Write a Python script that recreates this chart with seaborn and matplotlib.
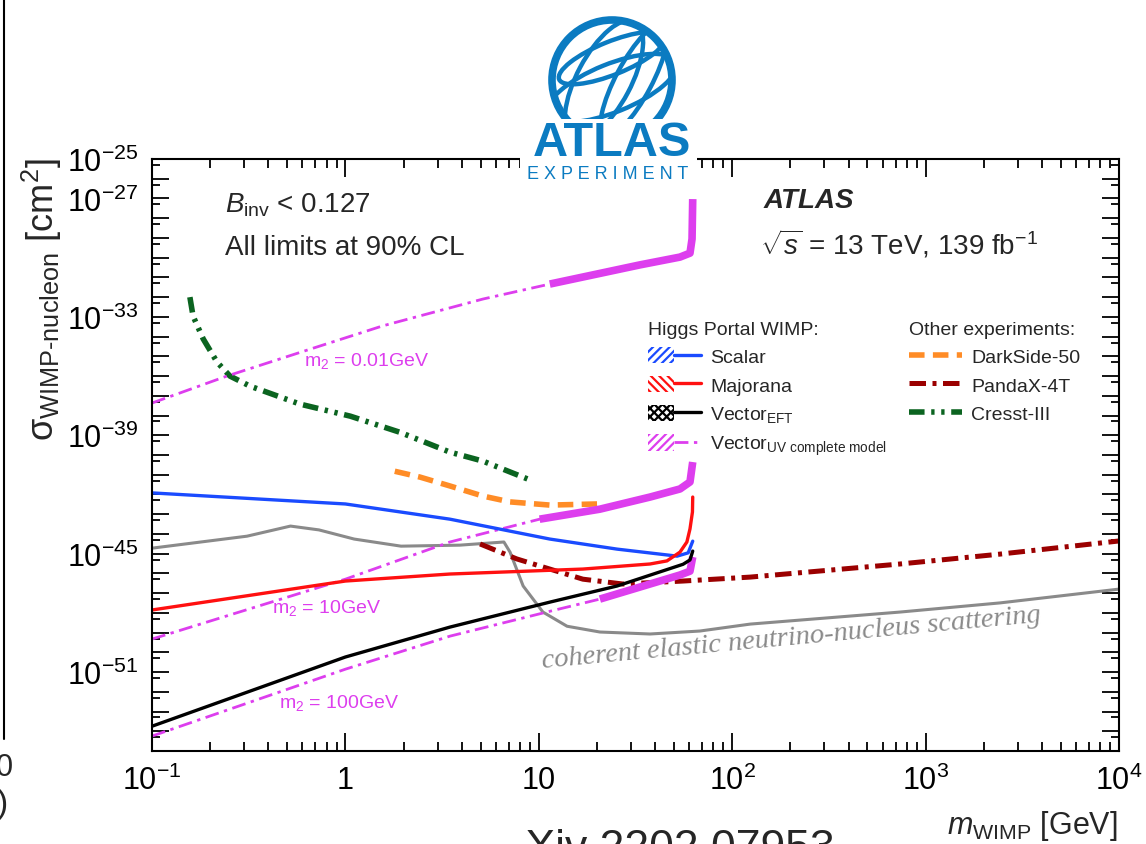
import numpy as np
import pandas as pd
import matplotlib
matplotlib.use("Agg")
import matplotlib.pyplot as plt
import seaborn as sns
from matplotlib.patches import Patch, Circle, Ellipse, Rectangle
from matplotlib.lines import Line2D
from matplotlib.legend_handler import HandlerTuple
from matplotlib.ticker import FixedLocator, FuncFormatter, NullFormatter
from matplotlib.transforms import Bbox, TransformedBbox

# ---------------------------------------------------------------- data
# WIMP mass [GeV] and WIMP-nucleon cross-section [cm^2]
scalar_m = [0.1, 1.0, 3.47, 11.4, 25.4, 51.9, 59.2, 62.5]
scalar_sigma = [1.2e-42, 3.3e-43, 5.6e-44, 5.5e-45, 1.7e-45, 7.5e-46, 1.1e-45, 4.3e-45]

majorana_m = [0.1, 1.0, 3.47, 16.9, 37.6, 46.0, 53.7, 58.3, 60.5, 62.3, 62.5]
majorana_sigma = [1.4e-48, 4.1e-47, 9.3e-47, 1.66e-46, 3.0e-46, 4.3e-46, 1.2e-45, 3.9e-45,
                  1.8e-44, 1.3e-43, 7.4e-43]

eft_m = [0.1, 1.0, 3.47, 11.4, 25.4, 55.7, 60.5, 62.5]
eft_sigma = [1.8e-54, 5.8e-51, 1.9e-49, 3.5e-48, 2.3e-47, 2.9e-46, 4.8e-46, 1.35e-45]

uv_m2_labels = ["m$_2$ = 0.01GeV", "m$_2$ = 10GeV", "m$_2$ = 100GeV"]
uv001_m = [0.1, 0.244, 0.656, 1.56, 5.14, 11.4, 33.3, 53.7, 60.5, 62.0, 62.5]
uv001_sigma = [4.3e-38, 1.0e-36, 2.3e-35, 3.5e-34, 8.0e-33, 4.6e-32, 4.3e-31, 1.07e-30,
               1.7e-30, 8.9e-30, 9.3e-28]
uv10_m = [0.1, 1.0, 3.47, 10.1, 20.7, 37.6, 53.7, 60.5, 62.5]
uv10_sigma = [4.7e-50, 5.1e-47, 3.9e-45, 5.6e-44, 1.8e-43, 7.4e-43, 1.9e-42, 4.3e-42, 4.4e-41]
uv100_m = [0.1, 1.0, 3.47, 11.4, 20.7, 37.6, 53.7, 60.5, 62.5]
uv100_sigma = [5.7e-55, 1.4e-51, 6.6e-50, 1.2e-48, 5.0e-48, 2.9e-47, 8.3e-47, 1.3e-46, 6.8e-46]
uv_band_from = [11.0, 8.0, 20.0]   # start of the shaded uncertainty band [GeV]

neutrino_m = [0.1, 0.31, 0.52, 0.73, 1.11, 1.94, 3.9, 6.6, 7.1, 8.3, 10.5, 14.0, 20.7,
              37.6, 68.0, 124.0, 738.0, 2427.0, 10000.0]
neutrino_sigma = [1.9e-45, 7.7e-45, 2.5e-44, 1.6e-44, 5.5e-45, 2.4e-45, 2.7e-45, 3.9e-45,
                  1.2e-45, 2.3e-47, 1.1e-48, 2.1e-49, 1.07e-49, 8.5e-50, 1.2e-49, 2.7e-49,
                  1.1e-48, 3.2e-48, 1.6e-47]

pandax_m = [4.97, 7.7, 11.4, 16.9, 27.2, 55.7, 124.0, 738.0, 2427.0, 10000.0]
pandax_sigma = [3.1e-45, 5.4e-46, 1.66e-46, 5.1e-47, 2.9e-47, 4.1e-47, 6.5e-47, 3.0e-46,
                9.5e-46, 4.4e-45]

darkside_m = [1.8, 2.43, 3.47, 5.14, 7.1, 11.4, 20.0]
darkside_sigma = [1.5e-41, 7.6e-42, 2.7e-42, 8.3e-43, 4.2e-43, 2.9e-43, 3.3e-43]

cresst_m = [0.157, 0.163, 0.184, 0.217, 0.253, 0.321, 0.582, 1.06, 1.92, 3.47, 5.14, 9.3]
cresst_sigma = [1.0e-32, 1.1e-33, 7.6e-35, 5.1e-36, 1.0e-36, 3.1e-37, 3.8e-38, 9.3e-39,
                1.4e-39, 1.4e-40, 4.9e-41, 4.8e-42]

higgs_labels = ["Scalar", "Majorana", r"Vector$_{\mathrm{EFT}}$",
                r"Vector$_{\mathrm{UV\ complete\ model}}$"]
other_labels = ["DarkSide-50", "PandaX-4T", "Cresst-III"]

xtick_values = [0.1, 1.0, 10.0, 100.0, 1000.0, 10000.0]
xtick_labels = [r"$10^{-1}$", "1", "10", r"$10^{2}$", r"$10^{3}$", r"$10^{4}$"]
ytick_labelled_exponents = [-25, -27, -33, -39, -45, -51]

# ---------------------------------------------------------------- style
sns.set_style("ticks")
plt.rcParams["font.family"] = ["Liberation Sans", "DejaVu Sans"]
plt.rcParams["mathtext.fontset"] = "custom"
plt.rcParams["mathtext.rm"] = "Liberation Sans"
plt.rcParams["mathtext.it"] = "Liberation Sans:italic"
plt.rcParams["mathtext.bf"] = "Liberation Sans:bold"
plt.rcParams["mathtext.sf"] = "Liberation Sans"
plt.rcParams["hatch.linewidth"] = 1.6

c_blue = "#1A4BFF"
c_red = "#FF1010"
c_black = "#000000"
c_mag = "#DD3EEE"
c_gray = "#8A8A8A"
c_orange = "#FF8C26"
c_darkred = "#9B0000"
c_green = "#0B6420"
c_atlas = "#0B7BC1"

ls_mag = (0, (5.0, 2.0, 1.2, 2.0))
ls_orange = (0, (2.8, 1.5))
ls_panda = (0, (3.3, 1.3, 0.8, 1.3))
ls_cresst = (0, (2.8, 1.2, 0.6, 1.2, 0.6, 1.2))

W, H = 1146, 845
fig = plt.figure(figsize=(W / 100, H / 100), dpi=100, facecolor="white")
ax = fig.add_axes([152 / W, 1 - 752 / H, 967 / W, 592 / H])
ax.set_xscale("log")
ax.set_yscale("log")


def curve(m, s, **kw):
    df = pd.DataFrame({"m": m, "sigma": s})
    sns.lineplot(data=df, x="m", y="sigma", ax=ax, sort=False, estimator=None,
                 legend=False, **kw)


# other experiments and the neutrino floor
curve(neutrino_m, neutrino_sigma, color=c_gray, lw=2.2)
curve(darkside_m, darkside_sigma, color=c_orange, lw=4, linestyle=ls_orange)
curve(pandax_m, pandax_sigma, color=c_darkred, lw=3.6, linestyle=ls_panda)
curve(cresst_m, cresst_sigma, color=c_green, lw=4, linestyle=ls_cresst)

# Higgs-portal WIMP limits
uv_sets = [(uv001_m, uv001_sigma), (uv10_m, uv10_sigma), (uv100_m, uv100_sigma)]
for (m, s), m_band in zip(uv_sets, uv_band_from):
    curve(m, s, color=c_mag, lw=2.0, linestyle=ls_mag)
    sel = [i for i, v in enumerate(m) if v >= m_band]
    curve([m[i] for i in sel], [s[i] for i in sel], color=c_mag, lw=5.5,
          solid_capstyle="butt", solid_joinstyle="round")
curve(scalar_m, scalar_sigma, color=c_blue, lw=2.4)
curve(majorana_m, majorana_sigma, color=c_red, lw=2.4)
curve(eft_m, eft_sigma, color=c_black, lw=2.4)

# ---------------------------------------------------------------- axes
ax.set_xlim(0.1, 1e4)
ax.set_ylim(1e-55, 1e-25)
ax.set_xlabel("")
ax.set_ylabel("")
for sp in ax.spines.values():
    sp.set_linewidth(1.5)
    sp.set_color("black")
    sp.set_visible(True)

ax.set_xticks(xtick_values)
ax.set_xticklabels(xtick_labels)
ax.xaxis.set_minor_locator(FixedLocator(
    [k * 10.0 ** e for e in range(-1, 4) for k in range(2, 10)]))
ax.xaxis.set_minor_formatter(NullFormatter())

ax.yaxis.set_major_locator(FixedLocator([10.0 ** e for e in range(-55, -24)]))
ax.yaxis.set_major_formatter(FuncFormatter(
    lambda v, p: (r"$10^{%d}$" % int(round(np.log10(v))))
    if int(round(np.log10(v))) in ytick_labelled_exponents else ""))
ax.yaxis.set_minor_locator(FixedLocator([5 * 10.0 ** e for e in range(-56, -25)]))
ax.yaxis.set_minor_formatter(NullFormatter())

ax.tick_params(which="both", direction="in", top=True, right=True, width=1.3,
               colors="black", labelsize=22)
ax.tick_params(axis="x", which="major", length=13, pad=10)
ax.tick_params(axis="x", which="minor", length=6.5)
ax.tick_params(axis="y", which="major", length=12, pad=10)
ax.tick_params(axis="y", which="minor", length=6)

fig.text(42 / W, 1 - 158 / H, r"σ$_{\mathrm{WIMP\text{-}nucleon}}$ [cm$^{2}$]",
         rotation=90, ha="center", va="top", fontsize=26)
fig.text(1118 / W, 1 - 826 / H, r"$m_{\mathrm{WIMP}}$ [GeV]",
         ha="right", va="center", fontsize=22)

# ---------------------------------------------------------------- annotations
ax.text(0.076, 0.912, r"$B_{\mathrm{inv}}$ < 0.127", transform=ax.transAxes,
        fontsize=20, va="baseline")
ax.text(0.076, 0.8395, "All limits at 90% CL", transform=ax.transAxes,
        fontsize=20, va="baseline")
ax.text(0.632, 0.919, "ATLAS", transform=ax.transAxes, fontsize=20,
        fontweight="bold", fontstyle="italic", va="baseline")
ax.text(0.629, 0.841, r"$\sqrt{s}$ = 13 TeV, 139 fb$^{-1}$", transform=ax.transAxes,
        fontsize=20, va="baseline")

for lab, (tx, ty) in zip(uv_m2_labels, [(0.157, 0.652), (0.124, 0.235), (0.131, 0.074)]):
    ax.text(tx, ty, lab, transform=ax.transAxes, color=c_mag, fontsize=14, va="baseline")

ax.text(0.404, 0.142, "coherent elastic neutrino-nucleus scattering",
        transform=ax.transAxes, rotation=5.3, rotation_mode="anchor",
        ha="left", va="baseline", color=c_gray, fontsize=20.5,
        family="Liberation Serif", style="italic")

# ---------------------------------------------------------------- legends
higgs_handles = [
    (Patch(facecolor="none", edgecolor=c_blue, hatch="////", lw=0),
     Line2D([], [], color=c_blue, lw=2.4)),
    (Patch(facecolor="none", edgecolor=c_red, hatch="\\\\\\\\", lw=0),
     Line2D([], [], color=c_red, lw=2.4)),
    (Patch(facecolor="none", edgecolor=c_black, hatch="xxxx", lw=0),
     Line2D([], [], color=c_black, lw=2.4)),
    (Patch(facecolor="none", edgecolor=c_mag, hatch="////", lw=0),
     Line2D([], [], color=c_mag, lw=2.0, linestyle=ls_mag)),
]
other_handles = [
    Line2D([], [], color=c_orange, lw=4, linestyle=ls_orange),
    Line2D([], [], color=c_darkred, lw=3.6, linestyle=ls_panda),
    Line2D([], [], color=c_green, lw=4, linestyle=ls_cresst),
]
leg_kw = dict(loc="upper left", frameon=False, fontsize=14, title_fontsize=14,
              alignment="left", handlelength=2.7, handleheight=0.9, labelspacing=0.5,
              handletextpad=0.5, borderpad=0, borderaxespad=0)
leg1 = ax.legend(higgs_handles, higgs_labels, title="Higgs Portal WIMP:",
                 bbox_to_anchor=(0.513, 0.727),
                 handler_map={tuple: HandlerTuple(ndivide=None)}, **leg_kw)
ax.add_artist(leg1)
leg2 = ax.legend(other_handles, other_labels, title="Other experiments:",
                 bbox_to_anchor=(0.783, 0.727), **leg_kw)

# ---------------------------------------------------------------- ATLAS logo
logo = fig.add_axes([520 / W, 1 - 185 / H, 177 / W, 177 / H], zorder=5)
logo.set_xlim(0, 177)
logo.set_ylim(0, 177)
logo.axis("off")
logo.add_patch(Rectangle((0, 0), 177, 177, facecolor="white", edgecolor="none", zorder=0))
gc = (92, 104)
R = 60
clip = Circle(gc, R, transform=logo.transData)
for (dx, dy, w, h, ang) in [(0, -8, 2.3 * R, 0.8 * R, 22), (0, 22, 1.9 * R, 0.55 * R, 22),
                            (-8, 0, 0.9 * R, 2.2 * R, -28), (22, 0, 0.6 * R, 2.1 * R, -28)]:
    e = Ellipse((gc[0] + dx, gc[1] + dy), w, h, angle=ang, fill=False,
                edgecolor=c_atlas, lw=3.2, zorder=1)
    logo.add_patch(e)
    e.set_clip_path(clip)
logo.add_patch(Circle(gc, R, fill=False, edgecolor=c_atlas, lw=5.5, zorder=2))
logo.add_patch(Rectangle((0, 27), 177, 38, facecolor="white", edgecolor="none", zorder=3))
logo.text(92, 29, "ATLAS", ha="center", va="baseline", fontsize=35, fontweight="bold",
          color=c_atlas, zorder=4)
logo.text(88, 6, "E X P E R I M E N T", ha="center", va="baseline", fontsize=13,
          color=c_atlas, zorder=4)

# ---------------------------------------------------------------- slide edges
fig.add_artist(Line2D([4 / W, 4 / W], [1 - 740 / H, 1], color="black", lw=1.5,
                      transform=fig.transFigure))
fig.text(13 / W, 1 - 768 / H, "0", ha="right", va="center", fontsize=22)
fig.text(8 / W, 1 - 805 / H, ")", ha="right", va="center", fontsize=24)
ref = fig.text(486 / W, -16 / H, "arXiv 2202.07953", ha="left", va="baseline",
               fontsize=32)
ref.set_clip_box(TransformedBbox(Bbox.from_extents(525 / W, 0, 1, 1), fig.transFigure))
ref.set_clip_on(True)

fig.savefig("out.png", dpi=100, facecolor="white")
